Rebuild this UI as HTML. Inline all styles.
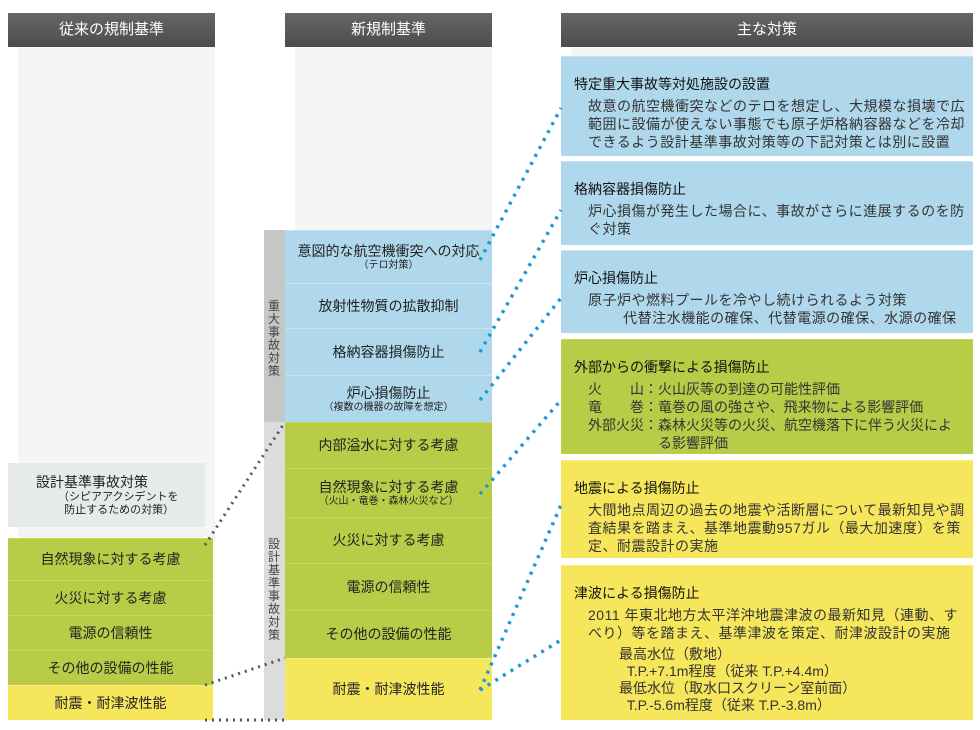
<!DOCTYPE html>
<html><head><meta charset="utf-8"><style>
*{margin:0;padding:0;box-sizing:border-box}
body{width:980px;height:730px;background:#fff;position:relative;overflow:hidden;font-family:"Liberation Sans","Noto Sans CJK JP",sans-serif;color:#222}
.a{position:absolute}
.hd{background:linear-gradient(#666,#4e4c4b);color:#fff;font-size:15px;text-align:center;line-height:34px}
.c{display:flex;flex-direction:column;justify-content:center;align-items:center;text-align:center;font-size:14px;line-height:17px}
.s{font-size:10px;line-height:12px}
.bl{background:#b0d8ec;border-top:1px solid #c4e4f4}
.gr{background:#b8cc48;border-top:1px solid #c6d85a}
.ye{background:#f6e65c;border-top:1px solid #faee80}
.rb{padding:18px 0 0 13px;font-size:14px;line-height:18px;white-space:nowrap}
.rb b{font-weight:normal;display:block;margin-bottom:4px;color:#111}
.rb p{padding-left:14px;color:#333;letter-spacing:0.5px}
</style></head><body>
<div class="a" style="left:18px;top:47px;width:197px;height:495px;background:#f4f6f5"></div>
<div class="a" style="left:295px;top:47px;width:197px;height:185px;background:#f4f6f5"></div>
<div class="a" style="left:571px;top:47px;width:402px;height:10px;background:#f4f6f5"></div>
<div class="a hd" style="left:8px;top:13px;width:207px;height:34px">従来の規制基準</div>
<div class="a hd" style="left:285px;top:13px;width:207px;height:34px">新規制基準</div>
<div class="a hd" style="left:561px;top:13px;width:412px;height:34px">主な対策</div>
<div class="a c" style="left:8px;top:463px;width:197px;height:64px;background:#e6eaea;align-items:flex-start;padding-left:28px;text-align:left">設計基準事故対策<span class="s" style="padding-left:22px;font-size:11px;line-height:13px">（シピアアクシデントを<br>&nbsp;&nbsp;防止するための対策）</span></div>
<div class="a c gr" style="left:8px;top:538px;width:205px;height:42px">自然現象に対する考慮</div>
<div class="a c gr" style="left:8px;top:580px;width:205px;height:35px">火災に対する考慮</div>
<div class="a c gr" style="left:8px;top:615px;width:205px;height:35px">電源の信頼性</div>
<div class="a c gr" style="left:8px;top:650px;width:205px;height:35px">その他の設備の性能</div>
<div class="a c ye" style="left:8px;top:685px;width:205px;height:35px">耐震・耐津波性能</div>
<div class="a" style="left:264px;top:230px;width:21px;height:192px;background:#c6c6c6"></div>
<div class="a" style="left:264px;top:422px;width:21px;height:298px;background:#dcdcdc"></div>
<div class="a" style="left:267px;top:300px;width:14px;font-size:12px;line-height:13px;color:#444;text-align:center">重大事故対策</div>
<div class="a" style="left:267px;top:538px;width:14px;font-size:12px;line-height:13px;color:#444;text-align:center">設計基準事故対策</div>
<div class="a c bl" style="left:285px;top:230px;width:207px;height:53px">意図的な航空機衝突への対応<span class="s">（テロ対策）</span></div>
<div class="a c bl" style="left:285px;top:283px;width:207px;height:45px">放射性物質の拡散抑制</div>
<div class="a c bl" style="left:285px;top:328px;width:207px;height:47px">格納容器損傷防止</div>
<div class="a c bl" style="left:285px;top:375px;width:207px;height:47px">炉心損傷防止<span class="s">（複数の機器の故障を想定）</span></div>
<div class="a c gr" style="left:285px;top:422px;width:207px;height:46px">内部溢水に対する考慮</div>
<div class="a c gr" style="left:285px;top:468px;width:207px;height:49px">自然現象に対する考慮<span class="s">（火山・竜巻・森林火災など）</span></div>
<div class="a c gr" style="left:285px;top:517px;width:207px;height:46px">火災に対する考慮</div>
<div class="a c gr" style="left:285px;top:563px;width:207px;height:47px">電源の信頼性</div>
<div class="a c gr" style="left:285px;top:610px;width:207px;height:48px">その他の設備の性能</div>
<div class="a c ye" style="left:285px;top:658px;width:207px;height:62px">耐震・耐津波性能</div>
<div class="a rb bl" style="left:561px;top:56px;width:412px;height:100px"><b>特定重大事故等対処施設の設置</b><p>故意の航空機衝突などのテロを想定し、大規模な損壊で広<br>範囲に設備が使えない事態でも原子炉格納容器などを冷却<br>できるよう設計基準事故対策等の下記対策とは別に設置</p></div>
<div class="a rb bl" style="left:561px;top:161px;width:412px;height:84px"><b>格納容器損傷防止</b><p>炉心損傷が発生した場合に、事故がさらに進展するのを防<br>ぐ対策</p></div>
<div class="a rb bl" style="left:561px;top:250px;width:412px;height:83px"><b>炉心損傷防止</b><p>原子炉や燃料プールを冷やし続けられるよう対策<br>&nbsp;&nbsp;&nbsp;&nbsp;&nbsp;&nbsp;&nbsp;&nbsp;代替注水機能の確保、代替電源の確保、水源の確保</p></div>
<div class="a rb gr" style="left:561px;top:339px;width:412px;height:115px"><b>外部からの衝撃による損傷防止</b><p style="letter-spacing:0">火　　山：火山灰等の到達の可能性評価<br>竜　　巻：竜巻の風の強さや、飛来物による影響評価<br>外部火災：森林火災等の火災、航空機落下に伴う火災によ<br>　　　　　る影響評価</p></div>
<div class="a rb ye" style="left:561px;top:460px;width:412px;height:98px"><b>地震による損傷防止</b><p>大間地点周辺の過去の地震や活断層について最新知見や調<br>査結果を踏まえ、基準地震動957ガル（最大加速度）を策<br>定、耐震設計の実施</p></div>
<div class="a rb ye" style="left:561px;top:565px;width:412px;height:155px"><b>津波による損傷防止</b><p>2011 年東北地方太平洋沖地震津波の最新知見（連動、す<br>べり）等を踏まえ、基準津波を策定、耐津波設計の実施</p><p style="padding-left:45px;margin-top:4px;line-height:17px;letter-spacing:0">最高水位（敷地）<br>&nbsp;&nbsp;T.P.+7.1m程度（従来 T.P.+4.4m）<br>最低水位（取水口スクリーン室前面）<br>&nbsp;&nbsp;T.P.-5.6m程度（従来 T.P.-3.8m）</p></div>
<svg class="a" style="left:0;top:0" width="980" height="730">
<g stroke="#1a9ad6" stroke-width="3.5" stroke-dasharray="3 6" fill="none">
<line x1="480" y1="260" x2="561" y2="108"/>
<line x1="480" y1="352" x2="561" y2="210"/>
<line x1="480" y1="400" x2="561" y2="298"/>
<line x1="480" y1="494" x2="561" y2="400"/>
<line x1="480" y1="690" x2="561" y2="505"/>
<line x1="480" y1="690" x2="561" y2="640"/>
</g>
<g stroke="#555" stroke-width="3" stroke-dasharray="2 5" fill="none">
<line x1="205" y1="545" x2="285" y2="422"/>
<line x1="205" y1="685" x2="285" y2="658"/>
<line x1="205" y1="720" x2="285" y2="720"/>
</g>
</svg>
</body></html>
